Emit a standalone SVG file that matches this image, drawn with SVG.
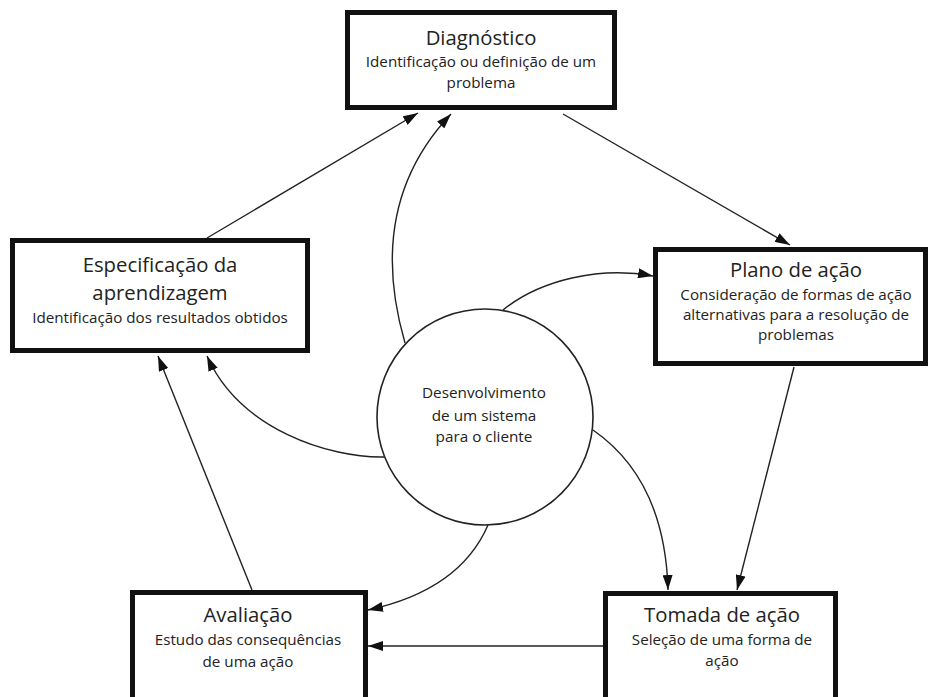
<svg xmlns="http://www.w3.org/2000/svg" width="930" height="697" viewBox="0 0 930 697">
<defs>
<marker id="ah" markerUnits="userSpaceOnUse" markerWidth="16" markerHeight="10" refX="15" refY="5" orient="auto">
<path d="M0,0 L15,5 L0,10 Z" fill="#111"/>
</marker>
<style>
.box{fill:#fff;stroke:#111;stroke-width:5}
.t{font-family:"Open Sans","Liberation Sans",sans-serif;fill:#222;text-anchor:middle}
.h{font-size:20.3px}
.s{font-size:15.2px}
.c{fill:none;stroke:#222;stroke-width:1.4;marker-end:url(#ah)}
</style>
</defs>
<rect width="930" height="697" fill="#fff"/>
<g id="connectors">
<path class="c" d="M207,238 L418,113"/>
<path class="c" d="M405,343 Q365,205 451,114"/>
<path class="c" d="M563,114 L790,245"/>
<path class="c" d="M503,310 C540,280 600,266 653,276"/>
<path class="c" d="M794,367 L737,590"/>
<path class="c" d="M593,430 Q665,480 668,590"/>
<path class="c" d="M603,646 L368,646"/>
<path class="c" d="M488,525 Q460,590 368,610"/>
<path class="c" d="M252,590 L158,356"/>
<path class="c" d="M384,457 C330,458 240,430 207,356"/>
</g>
<g id="center">
<circle cx="485" cy="417" r="108" fill="#fff" stroke="#222" stroke-width="1.6"/>
<text class="t" x="484" y="398" font-size="15.3">Desenvolvimento</text>
<text class="t" x="484" y="421" font-size="15.3">de um sistema</text>
<text class="t" x="484" y="442" font-size="15.3">para o cliente</text>
</g>
<g id="diagnostico">
<rect class="box" x="347.5" y="12.5" width="267" height="95"/>
<text class="t h" x="481" y="45">Diagnóstico</text>
<text class="t s" x="481" y="67">Identificação ou definição de um</text>
<text class="t s" x="481" y="88">problema</text>
</g>
<g id="plano">
<rect class="box" x="655.5" y="249.5" width="270" height="114"/>
<text class="t h" x="796" y="277">Plano de ação</text>
<text class="t s" x="796" y="300">Consideração de formas de ação</text>
<text class="t s" x="796" y="320">alternativas para a resolução de</text>
<text class="t s" x="796" y="340">problemas</text>
</g>
<g id="tomada">
<rect class="box" x="605.5" y="593.5" width="230" height="115"/>
<text class="t h" x="722" y="622">Tomada de ação</text>
<text class="t s" x="722" y="645">Seleção de uma forma de</text>
<text class="t s" x="722" y="666">ação</text>
</g>
<g id="avaliacao">
<rect class="box" x="132.5" y="592.5" width="233" height="115"/>
<text class="t h" x="248" y="622">Avaliação</text>
<text class="t s" x="248" y="645">Estudo das consequências</text>
<text class="t s" x="248" y="667">de uma ação</text>
</g>
<g id="especificacao">
<rect class="box" x="12.5" y="240.5" width="295" height="110"/>
<text class="t h" x="160" y="272">Especificação da</text>
<text class="t h" x="160" y="300">aprendizagem</text>
<text class="t s" x="160" y="323">Identificação dos resultados obtidos</text>
</g>
</svg>
